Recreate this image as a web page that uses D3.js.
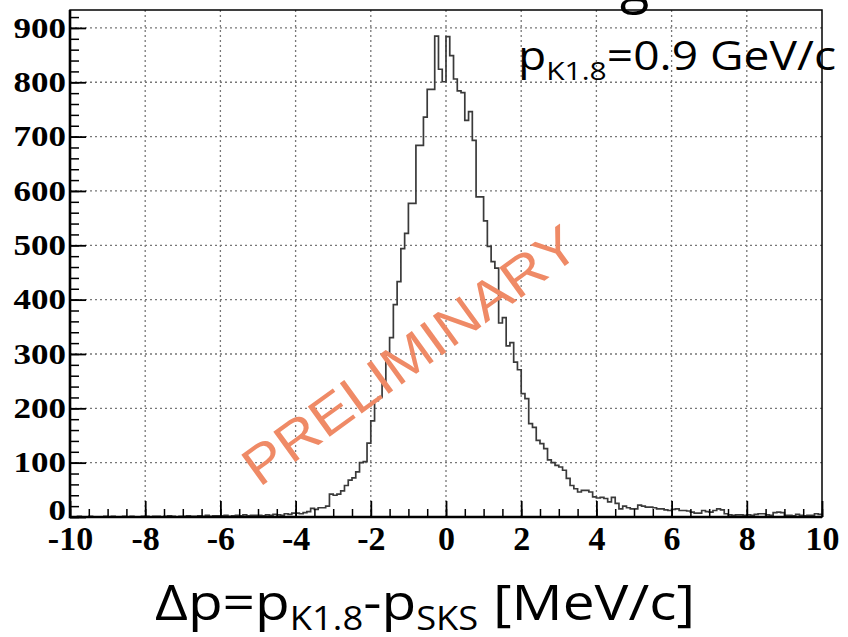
<!DOCTYPE html>
<html>
<head>
<meta charset="utf-8">
<script src="https://cdn.jsdelivr.net/npm/d3@7"></script>
<style>
  body { margin: 0; background: #fff; }
  svg { display: block; }
</style>
</head>
<body>
<div id="chart"></div>
<script>
// histogram: 200 bins of 0.1 from -10 to 10 (counts)
var binLow = -10;
var binWidth = 0.1;
var counts = [
  // -10 .. -7
  0, 0, 1, 0, 0, 1, 0, 0, 0, 1,  0, 1, 0, 0, 1, 0, 1, 0, 0, 1,  1, 0, 1, 1, 0, 1, 2, 1, 0, 1,
  // -7 .. -5
  1, 2, 1, 1, 2, 1, 3, 1, 2, 2,  2, 3, 1, 2, 3, 2, 4, 2, 3, 3,
  // -5 .. -4
  3, 2, 4, 3, 5, 4, 3, 6, 5, 7,
  // -4 .. -2
  7, 6, 8, 10, 16, 14, 17, 17, 20, 42,  40, 42, 48, 58, 68, 72, 83, 100, 102, 136,
  // -2 .. 0
  177, 214, 220, 250, 300, 330, 391, 433, 494, 522,  577, 577, 684, 684, 736, 787, 787, 885, 824, 801,
  // 0 .. 2
  884, 849, 806, 784, 781, 730, 746, 693, 589, 589,  545, 498, 470, 458, 357, 367, 315, 321, 285, 271,
  // 2 .. 4
  227, 218, 172, 165, 141, 135, 126, 105, 100, 95,  92, 86, 71, 58, 52, 46, 49, 49, 46, 37,
  // 4 .. 6
  35, 36, 34, 28, 36, 25, 15, 20, 17, 15,  15, 22, 20, 18, 18, 17, 15, 15, 13, 12,
  // 6 .. 8
  14, 15, 12, 12, 11, 9, 7, 7, 12, 10,  9, 12, 15, 13, 6, 4, 3, 4, 4, 3,
  // 8 .. 10
  4, 3, 5, 6, 6, 4, 3, 8, 9, 8,  3, 3, 2, 5, 3, 2, 3, 3, 6, 5
];
var xTicks = [-10, -8, -6, -4, -2, 0, 2, 4, 6, 8, 10];
var xMinorTicks = d3.range(-10, 10.01, 0.5);
var yTicks = [0, 100, 200, 300, 400, 500, 600, 700, 800, 900];
var yMinorTicks = d3.range(0, 921, 20);
var xDomain = [-10, 10];
var yDomain = [0, 933];

var width = 848, height = 637;
var plot = { left: 70, right: 822, top: 10, bottom: 517 };

var svg = d3.select("#chart").append("svg")
    .attr("width", width)
    .attr("height", height);

var x = d3.scaleLinear().domain(xDomain).range([plot.left, plot.right]);
var y = d3.scaleLinear().domain(yDomain).range([plot.bottom, plot.top]);

// grid (dotted)
var grid = svg.append("g").attr("class", "grid");
grid.selectAll(".gx")
    .data(xTicks.filter(function(d) { return d > xDomain[0] && d < xDomain[1]; }))
    .enter().append("line")
    .attr("x1", function(d) { return x(d); })
    .attr("x2", function(d) { return x(d); })
    .attr("y1", plot.top)
    .attr("y2", plot.bottom)
    .attr("stroke", "#777")
    .attr("stroke-width", 1.3)
    .attr("stroke-dasharray", "2,3");
grid.selectAll(".gy")
    .data(yTicks.filter(function(d) { return d > 0; }))
    .enter().append("line")
    .attr("x1", plot.left)
    .attr("x2", plot.right)
    .attr("y1", function(d) { return y(d); })
    .attr("y2", function(d) { return y(d); })
    .attr("stroke", "#777")
    .attr("stroke-width", 1.3)
    .attr("stroke-dasharray", "2,3");

// histogram outline
var steps = counts.map(function(c, i) { return [binLow + i * binWidth, c]; });
steps.push([binLow + counts.length * binWidth, counts[counts.length - 1]]);
var line = d3.line()
    .x(function(d) { return x(d[0]); })
    .y(function(d) { return y(d[1]); })
    .curve(d3.curveStepAfter);
svg.append("path")
    .datum(steps)
    .attr("d", line)
    .attr("fill", "none")
    .attr("stroke", "#3a3a3a")
    .attr("stroke-width", 1.7);

// minor ticks
svg.append("g")
    .attr("transform", "translate(0," + plot.bottom + ")")
    .call(d3.axisBottom(x).tickValues(xMinorTicks).tickSize(-8).tickFormat(""))
    .call(function(g) { g.select(".domain").remove(); })
    .selectAll("line").attr("stroke-width", 1.5);
svg.append("g")
    .attr("transform", "translate(" + plot.left + ",0)")
    .call(d3.axisLeft(y).tickValues(yMinorTicks).tickSize(-9).tickFormat(""))
    .call(function(g) { g.select(".domain").remove(); })
    .selectAll("line").attr("stroke-width", 1.5);

// major ticks + labels
var serif = "'Liberation Serif', 'DejaVu Serif', serif";
var xAxis = svg.append("g")
    .attr("transform", "translate(0," + plot.bottom + ")")
    .call(d3.axisBottom(x).tickValues(xTicks).tickSize(-16).tickPadding(9)
        .tickFormat(function(d) { return String(d); }));
xAxis.select(".domain").remove();
xAxis.selectAll("line").attr("stroke-width", 1.8);
xAxis.selectAll("text")
    .attr("fill", "#000")
    .style("font-family", serif)
    .style("font-weight", "bold")
    .style("font-size", "34px");

var yAxis = svg.append("g")
    .attr("transform", "translate(" + plot.left + ",0)")
    .call(d3.axisLeft(y).tickValues(yTicks).tickSize(-16).tickPadding(4));
yAxis.select(".domain").remove();
yAxis.selectAll("line").attr("stroke-width", 1.8);
yAxis.selectAll("text")
    .attr("fill", "#000")
    .attr("dy", function(d) { return d === 0 ? "0.1em" : "0.32em"; })
    .attr("textLength", function(d) { return String(d).length * 17.5; })
    .attr("lengthAdjust", "spacingAndGlyphs")
    .style("font-family", serif)
    .style("font-weight", "bold")
    .style("font-size", "29px");

// frame
svg.append("rect")
    .attr("x", plot.left).attr("y", plot.top)
    .attr("width", plot.right - plot.left)
    .attr("height", plot.bottom - plot.top)
    .attr("fill", "none")
    .attr("stroke", "#000")
    .attr("stroke-width", 1.5);
svg.append("path")
    .attr("d", "M" + plot.left + "," + plot.top + "V" + plot.bottom + "H" + plot.right)
    .attr("fill", "none")
    .attr("stroke", "#000")
    .attr("stroke-width", 2.6);

// annotation top right
var sans = "'Open Sans', 'Noto Sans', 'Liberation Sans', sans-serif";
var note = svg.append("text")
    .attr("x", 518).attr("y", 70)
    .attr("textLength", 318)
    .attr("lengthAdjust", "spacingAndGlyphs")
    .style("font-family", sans)
    .style("font-size", "40px")
    .attr("fill", "#000");
note.append("tspan").text("p");
note.append("tspan").attr("dy", 10).style("font-size", "26px").text("K1.8");
note.append("tspan").attr("dy", -10).text("=0.9 GeV/c");

// cut-off text at top edge
svg.append("text")
    .attr("x", 620).attr("y", 2)
    .style("font-family", sans)
    .style("font-size", "54px")
    .attr("fill", "#000")
    .text("g");

// x axis title
var title = svg.append("text")
    .attr("x", 155).attr("y", 620)
    .attr("textLength", 540)
    .attr("lengthAdjust", "spacingAndGlyphs")
    .style("font-family", sans)
    .style("font-size", "50px")
    .attr("fill", "#000");
title.append("tspan").text("\u0394p=p");
title.append("tspan").attr("dy", 10).style("font-size", "32px").text("K1.8");
title.append("tspan").attr("dy", -10).text("-p");
title.append("tspan").attr("dy", 10).style("font-size", "32px").text("SKS");
title.append("tspan").attr("dy", -10).text(" [MeV/c]");

// watermark
svg.append("text")
    .attr("transform", "translate(410,355) rotate(-36)")
    .attr("text-anchor", "middle")
    .attr("dy", "0.35em")
    .attr("textLength", 400)
    .attr("lengthAdjust", "spacingAndGlyphs")
    .style("font-family", "'Liberation Sans', Arial, sans-serif")
    .style("font-size", "54px")
    .attr("fill", "#EF8A66")
    .text("PRELIMINARY");
</script>
</body>
</html>
